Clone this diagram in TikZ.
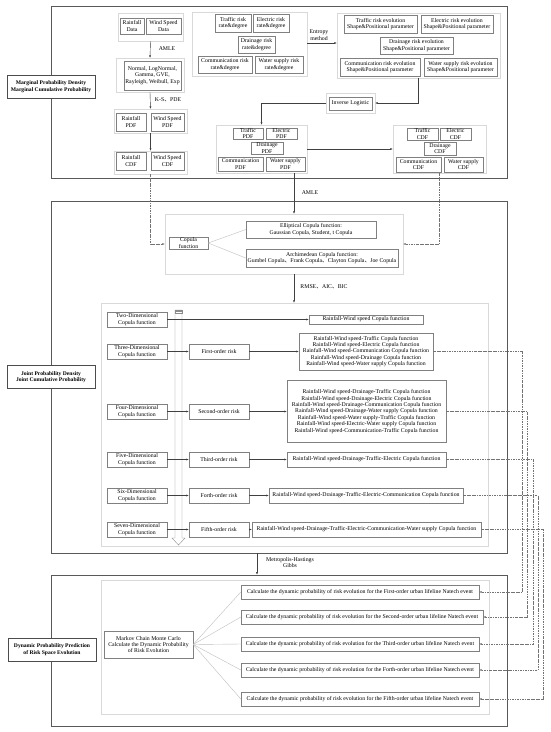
\documentclass[tikz,border=0pt]{standalone}
\usepackage{fontspec}
\setmainfont{Liberation Serif}
\newfontfamily\cjkfont{Noto Sans CJK SC}
\usetikzlibrary{arrows.meta,fit,positioning}
\newcommand{\dunhao}{{\cjkfont 、}}

\begin{document}
\begin{tikzpicture}[x=1pt,y=-1pt,
font=\fontsize{5.8}{6.4}\selectfont,
secframe/.style={draw=black!65,line width=0.8pt,inner sep=0pt},
sectitle/.style={draw=black!70,line width=0.8pt,fill=white,align=center,font=\fontsize{5.6}{6.6}\selectfont\bfseries,minimum width=88pt,minimum height=23pt},
grpbox/.style={draw=black!15,line width=0.4pt,inner sep=0pt},
box/.style={draw=black!50,line width=0.4pt,fill=white,align=center,inner sep=0.4pt},
wh/.style 2 args={minimum width=#1pt,minimum height=#2pt},
arr/.style={-{Latex[length=2.4pt,width=2pt]},black!75,line width=0.4pt},
dashline/.style={arr,black!55,dash pattern=on 2.5pt off 1pt on 0.6pt off 1pt},
branch/.style={black!25,line width=0.4pt},
]
\useasboundingbox[fill=white] (0,0) rectangle (550,732);

% frames and titles
\node[secframe,fit={(51,6) (507,178)}] (sec1) {};
\node[secframe,fit={(51,201) (507,553)}] (sec2) {};
\node[secframe,fit={(51,575) (507,726)}] (sec3) {};
\node[sectitle] (tit1) at (51,86.5) {Marginal Probability Density\\Marginal Cumulative Probability};
\node[sectitle] (tit2) at (51,377) {Joint Probability Density\\Joint Cumulative Probability};
\node[sectitle] (tit3) at (52,649.5) {Dynamic Probability Prediction\\of Risk Space Evolution};

% marginal part
\node[grpbox,fit={(118,13) (183,41)}] (dataG) {};
\node[grpbox,fit={(116,58) (184,92)}] (distG) {};
\node[grpbox,fit={(114,109) (187,133)}] (pdfG) {};
\node[grpbox,fit={(114,151) (187,174)}] (cdfG) {};
\node[grpbox,fit={(192,12) (307,76)}] (rateG) {};
\node[grpbox,fit={(337,13) (500,78)}] (evoG) {};
\node[grpbox,fit={(326,93) (375,113)}] (invG) {};
\node[grpbox,fit={(216,125) (307,173)}] (rpdfG) {};
\node[grpbox,fit={(393,125) (486,173)}] (rcdfG) {};

\node[box,wh={24}{16}] (rainData) at (132,26) {Rainfall\\Data};
\node[box,wh={35}{16}] (windData) at (163.5,26) {Wind Speed\\Data};
\node[box,wh={57}{29}] (dist) at (152.5,75.5) {Normal, LogNormal,\\Gamma, GVE,\\Rayleigh, Weibull, Exp};
\node[box,wh={30}{18}] (rainPdf) at (131,122) {Rainfall\\PDF};
\node[box,wh={33}{18}] (windPdf) at (167.5,122) {Wind Speed\\PDF};
\node[box,wh={30}{18}] (rainCdf) at (131,161) {Rainfall\\CDF};
\node[box,wh={33}{18}] (windCdf) at (167.5,161) {Wind Speed\\CDF};

\node[box,wh={36}{18}] (trafRate) at (233,23) {Traffic risk\\rate\&degree};
\node[box,wh={36}{18}] (elecRate) at (271,23) {Electric risk\\rate\&degree};
\node[box,wh={37}{17}] (drainRate) at (256.5,44.5) {Drainage risk\\rate\&degree};
\node[box,wh={54}{17}] (commRate) at (225,64.5) {Communication risk\\rate\&degree};
\node[box,wh={48}{17}] (waterRate) at (279,64.5) {Water supply risk\\rate\&degree};

\node[box,wh={73}{18}] (trafEvo) at (380.5,24) {Traffic risk evolution\\Shape\&Positional parameter};
\node[box,wh={72}{18}] (elecEvo) at (457,24) {Electric risk evolution\\Shape\&Positional parameter};
\node[box,wh={73}{17}] (drainEvo) at (416.5,45.5) {Drainage risk evolution\\Shape\&Positional parameter};
\node[box,wh={80}{18}] (commEvo) at (380,67) {Communication risk evolution\\Shape\&Positional parameter};
\node[box,wh={73}{18}] (waterEvo) at (460.5,67) {Water supply risk evolution\\Shape\&Positional parameter};

\node[box,wh={43}{13}] (inv) at (350.5,103.5) {Inverse Logistic};

\node[box,wh={30}{11}] (trafPdf) at (248,133.5) {Traffic\\PDF};
\node[box,wh={31}{11}] (elecPdf) at (281.5,133.5) {Electric\\PDF};
\node[box,wh={32}{12}] (drainPdf) at (267,148) {Drainage\\PDF};
\node[box,wh={45}{14}] (commPdf) at (240.5,164) {Communication\\PDF};
\node[box,wh={39}{14}] (waterPdf) at (285.5,164) {Water supply\\PDF};

\node[box,wh={31}{12}] (trafCdf) at (422.5,134) {Traffic\\CDF};
\node[box,wh={31}{12}] (elecCdf) at (455.5,134) {Electric\\CDF};
\node[box,wh={32}{13}] (drainCdf) at (440,148.5) {Drainage\\CDF};
\node[box,wh={45}{15}] (commCdf) at (418.5,164.5) {Communication\\CDF};
\node[box,wh={39}{15}] (waterCdf) at (463.5,164.5) {Water supply\\CDF};

\draw[arr] (dataG.south) -- (distG.north);
\node (amle1) at (167,49) {AMLE};
\draw[arr] (distG.south) -- (pdfG.north);
\node (ks) at (168,100) {K-S\dunhao PDE};
\draw[arr] (pdfG.south) -- (cdfG.north);
\draw[arr] (rateG.east |- 0,43) -- (evoG.west |- 0,43);
\node[align=center] (entropy) at (319,35) {Entropy\\method};
\draw[arr] (evoG.south) |- (invG.east);
\draw[arr] (invG.west) -| (rpdfG.north);
\draw[arr] (rpdfG.east) -- (rcdfG.west);

% joint part
\node[grpbox,fit={(165,214) (403,274)}] (copG) {};
\node[box,wh={39}{12}] (copula) at (188.5,243) {Copula\\function};
\node[box,wh={130}{17}] (ellip) at (311,229.5) {Elliptical Copula function:\\Gaussian Copula, Student, t Copula};
\node[box,wh={152}{18}] (archi) at (322,258) {Archimedean Copula function:\\Gumbel Copula\dunhao Frank Copula\dunhao Clayton Copula\dunhao Joe Copula};
\draw[branch] (copula.east) -- (ellip.west);
\draw[branch] (copula.east) -- (archi.west);

\coordinate (amle) at (294,173);
\draw[arr] (amle) -- (amle |- copG.north);
\node (amle2) at (310,193) {AMLE};
\draw[dashline] (cdfG.south) |- (copG.west);
\draw[dashline] (rcdfG.south) |- (copG.east);

\node[grpbox,fit={(101,303) (488,546)}] (inner2) {};
\draw[arr] (copG.south -| amle) -- (amle |- inner2.north);
\node (rmse) at (324,287) {RMSE\dunhao AIC\dunhao BIC};

\draw[black!45,line width=0.4pt,fill=white] (175,310) -- (175,538) -- (172,538) -- (178.5,545) -- (185,538) -- (182,538) -- (182,310) -- cycle;
\draw[black!45,line width=0.4pt] (175,310) rectangle (182,313) (175,311.5) -- (182,311.5);

\node[box,wh={60}{15}] (dim2) at (137,319.5) {Two-Dimensional\\Copula function};
\node[box,wh={60}{15}] (dim3) at (137,351.5) {Three-Dimensional\\Copula function};
\node[box,wh={60}{15}] (dim4) at (137,411.5) {Four-Dimensional\\Copula function};
\node[box,wh={60}{15}] (dim5) at (137,459.5) {Five-Dimensional\\Copula function};
\node[box,wh={60}{15}] (dim6) at (137,495.5) {Six-Dimensional\\Copula function};
\node[box,wh={60}{15}] (dim7) at (137,529.5) {Seven-Dimensional\\Copula function};

\node[box,wh={60}{15}] (ord1) at (219,351.5) {First-order risk};
\node[box,wh={60}{15}] (ord2) at (219,411.5) {Second-order risk};
\node[box,wh={60}{15}] (ord3) at (219,459.5) {Third-order risk};
\node[box,wh={60}{15}] (ord4) at (219,495.5) {Forth-order risk};
\node[box,wh={60}{15}] (ord5) at (219,529.5) {Fifth-order risk};

\node[box,wh={114}{9}] (cop2) at (366,319.5) {Rainfall-Wind speed Copula function};
\node[box,wh={134}{37}] (cop3) at (366,351.5) {Rainfall-Wind speed-Traffic Copula function\\Rainfall-Wind speed-Electric Copula function\\Rainfall-Wind speed-Communication Copula function\\Rainfall-Wind speed-Drainage Copula function\\Rainfall-Wind speed-Water supply Copula function};
\node[box,wh={159}{62}] (cop4) at (366.5,411.5) {Rainfall-Wind speed-Drainage-Traffic Copula function\\Rainfall-Wind speed-Drainage-Electric Copula function\\Rainfall-Wind speed-Drainage-Communication Copula function\\Rainfall-Wind speed-Drainage-Water supply Copula function\\Rainfall-Wind speed-Water supply-Traffic Copula function\\Rainfall-Wind speed-Electric-Water supply Copula function\\Rainfall-Wind speed-Communication-Traffic Copula function};
\node[box,wh={159}{15}] (cop5) at (366.5,459.5) {Rainfall-Wind speed-Drainage-Traffic-Electric Copula function};
\node[box,wh={194}{15}] (cop6) at (366,495.5) {Rainfall-Wind speed-Drainage-Traffic-Electric-Communication Copula function};
\node[box,wh={229}{15}] (cop7) at (366.5,529.5) {Rainfall-Wind speed-Drainage-Traffic-Electric-Communication-Water supply Copula function};

\draw[arr] (dim2.east) -- (cop2.west);
\foreach \i/\j in {3/1,4/2,5/3,6/4,7/5} {
  \draw[arr] (dim\i.east) -- (ord\j.west);
  \draw[arr] (ord\j.east) -- (cop\i.west);
}

% dynamic part
\coordinate (mh) at (257,553);
\draw[arr] (mh) -- (mh |- sec3.north);
\node[align=center] (mhlab) at (290,562.5) {Metropolis-Hastings\\Gibbs};

\node[grpbox,fit={(101,580) (489,714)}] (inner3) {};
\node[box,wh={89}{27}] (mcmc) at (148.5,644.5) {Markov Chain Monte Carlo\\Calculate the Dynamic Probability\\of Risk Evolution};
\node[box,wh={238}{14}] (ev1) at (360,592) {Calculate the dynamic probability of risk evolution for the First-order urban lifeline Natech event};
\node[box,wh={242}{14}] (ev2) at (362,617) {Calculate the dynamic probability of risk evolution for the Second-order urban lifeline Natech event};
\node[box,wh={238}{14}] (ev3) at (360,644) {Calculate the dynamic probability of risk evolution for the Third-order urban lifeline Natech event};
\node[box,wh={238}{14}] (ev4) at (360,670) {Calculate the dynamic probability of risk evolution for the Forth-order urban lifeline Natech event};
\node[box,wh={238}{14}] (ev5) at (360,699) {Calculate the dynamic probability of risk evolution for the Fifth-order urban lifeline Natech event};
\foreach \k in {1,...,5}
  \draw[branch] (mcmc.east) -- (ev\k.west);

\coordinate (r1) at (522,340);
\coordinate (r2) at (527,340);
\coordinate (r3) at (533,340);
\coordinate (r4) at (538,340);
\coordinate (r5) at (543,340);
\foreach \i/\k in {3/1,4/2,5/3,6/4,7/5}
  \draw[dashline] (cop\i.east) -- (cop\i.east -| r\k) |- (ev\k.east);
\end{tikzpicture}
\end{document}
